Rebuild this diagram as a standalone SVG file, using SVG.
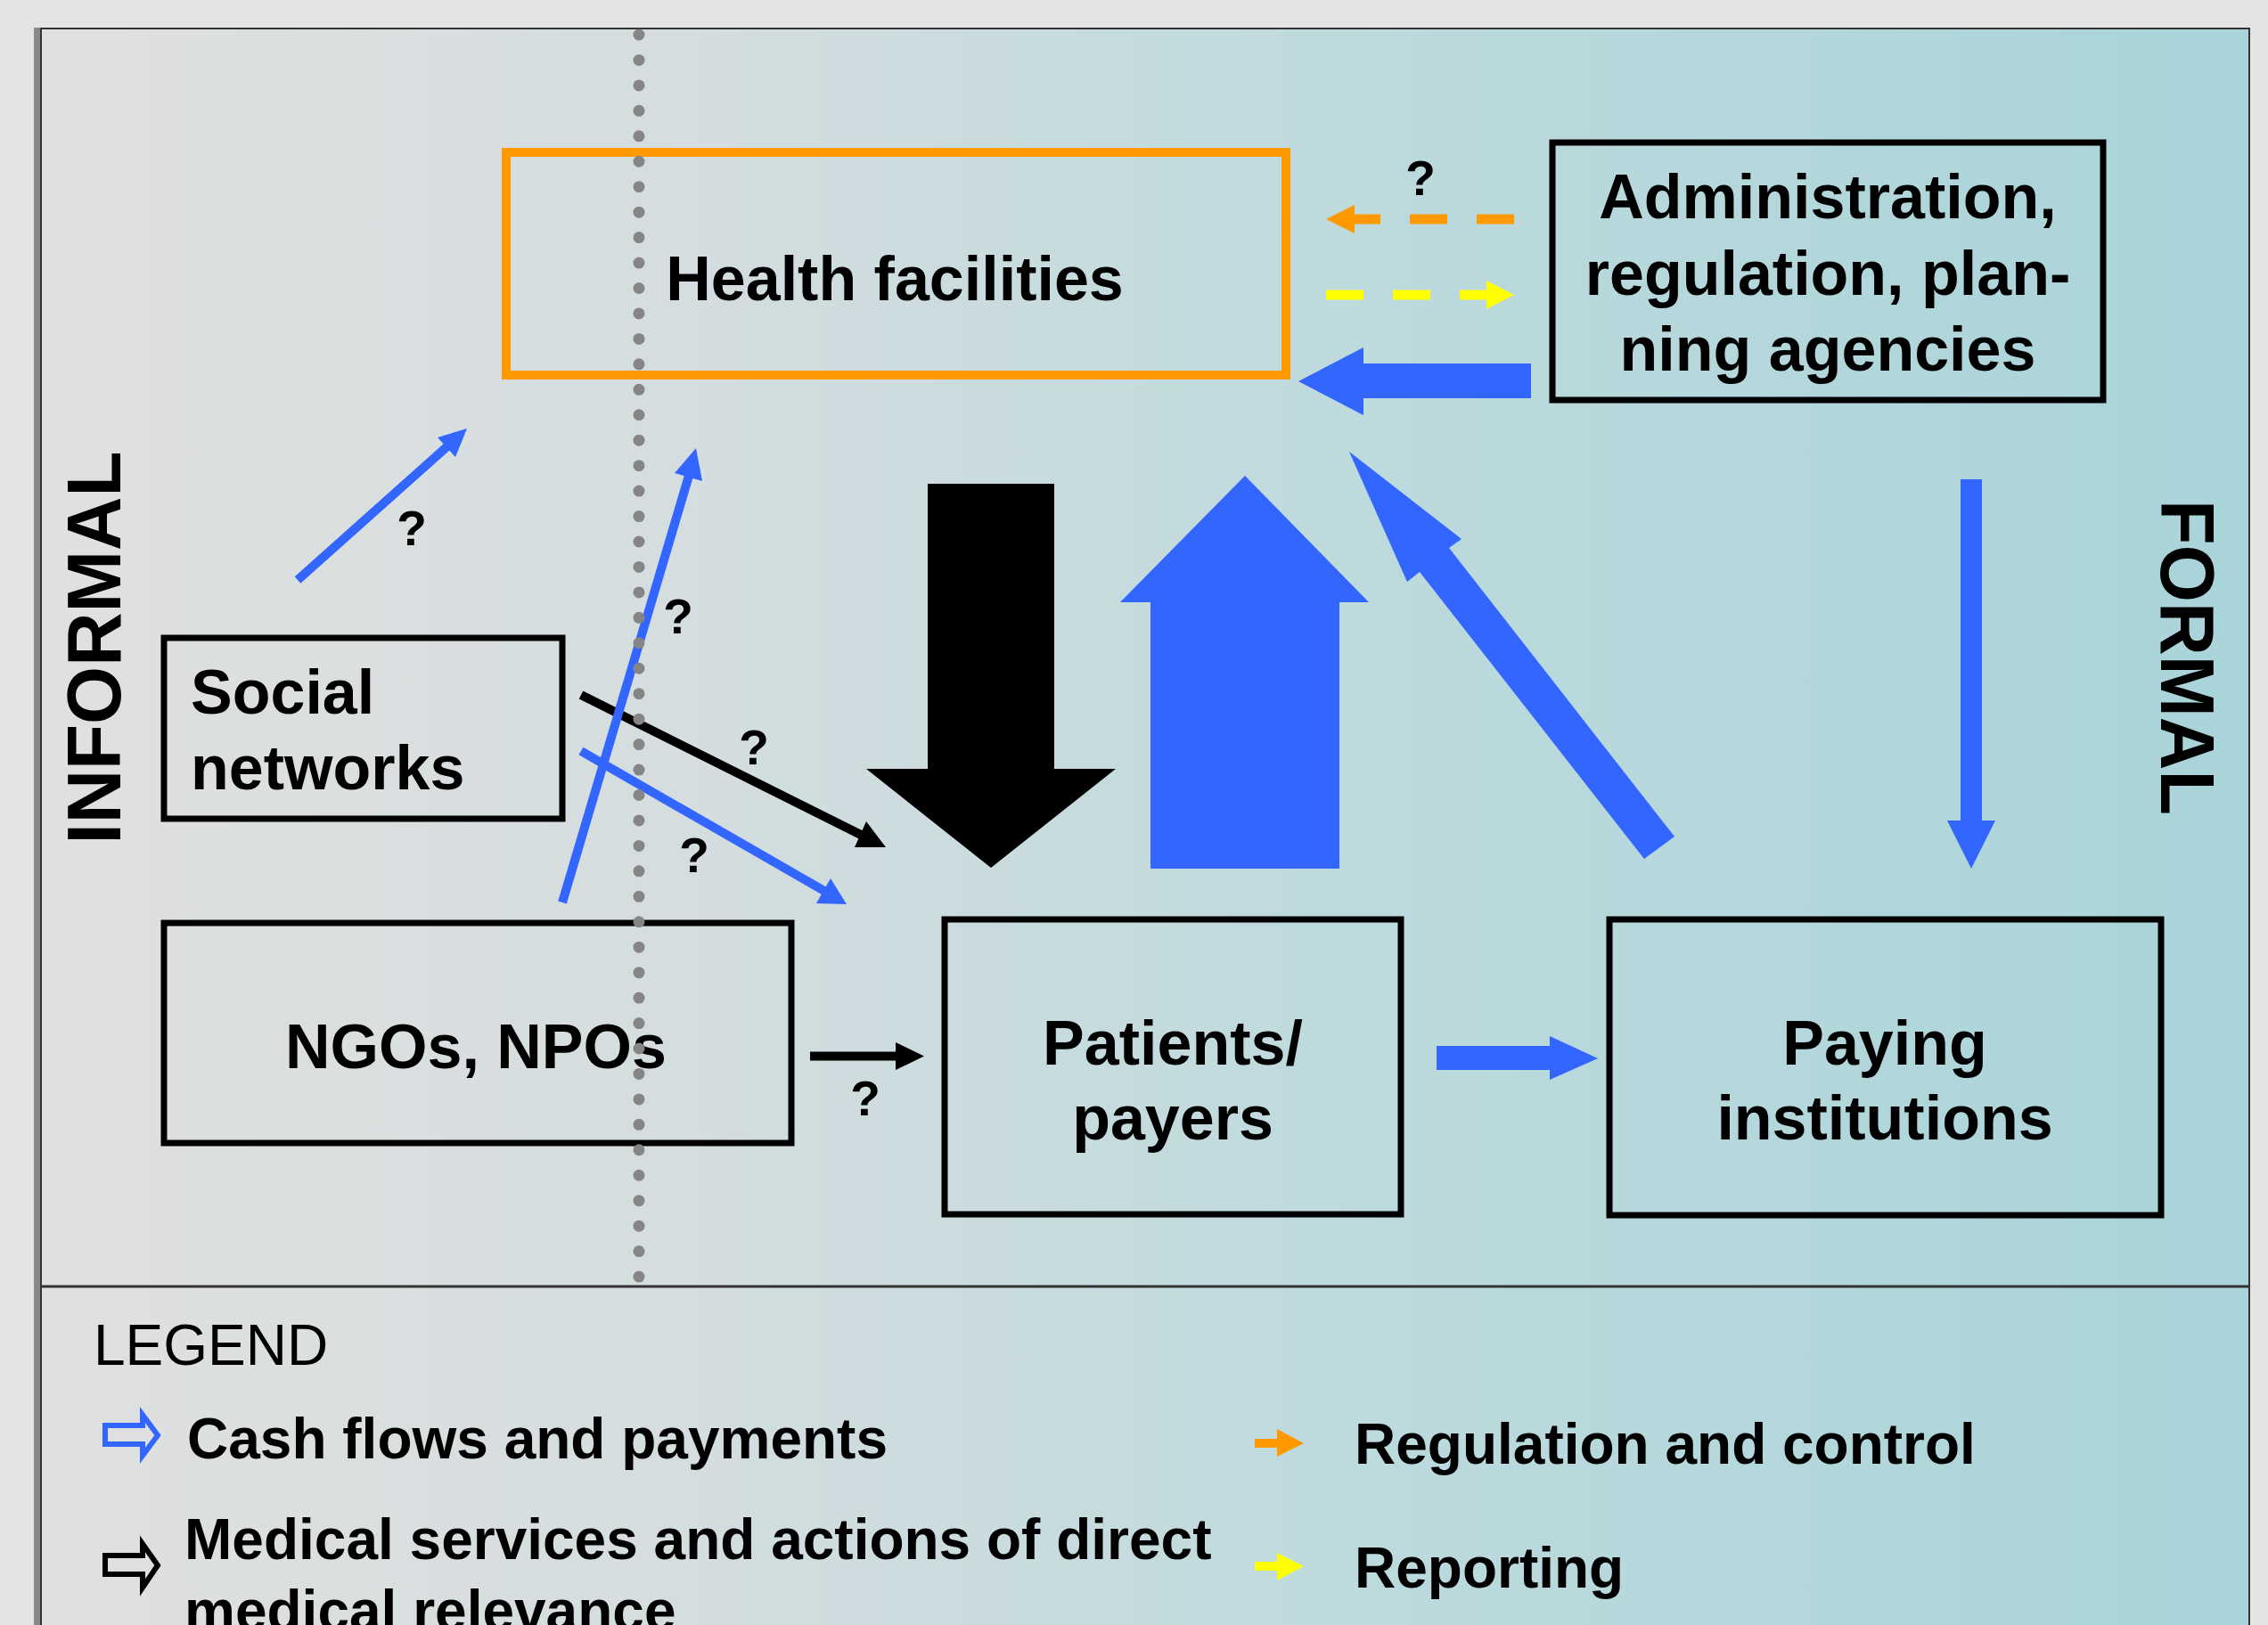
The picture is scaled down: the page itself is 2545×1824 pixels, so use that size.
<svg xmlns="http://www.w3.org/2000/svg" width="2545" height="1824" viewBox="0 0 2545 1824">
<defs>
<linearGradient id="bg" x1="0" y1="0" x2="1" y2="0">
<stop offset="0" stop-color="#e0e0e0"/>
<stop offset="0.3" stop-color="#d4dddf"/>
<stop offset="0.6" stop-color="#bddadd"/>
<stop offset="1" stop-color="#a9d4d9"/>
</linearGradient>
<style>
text{font-family:"Liberation Sans",Arial,sans-serif;fill:#000}
.n{font-size:70px;font-weight:bold}
.c{text-anchor:middle}
.q{font-size:55px;font-weight:bold;text-anchor:middle}
.lg{font-size:64px;font-weight:bold}
.box{fill:none;stroke:#000;stroke-width:7}
.bl{fill:#3366ff}
.blk{fill:#000}
.tb{stroke:#3366ff;stroke-width:10;fill:none}
.tk{stroke:#000;stroke-width:10;fill:none}
</style>
</defs>
<rect x="0" y="0" width="2545" height="1824" fill="#e4e4e4"/>
<rect x="46" y="32" width="2478" height="1800" fill="url(#bg)" stroke="#333" stroke-width="2"/>
<rect x="38" y="31" width="7" height="1800" fill="#888"/>
<line x1="46" y1="1444" x2="2524" y2="1444" stroke="#333" stroke-width="3"/>

<g id="informal"><text class="n c" transform="translate(135,727) rotate(-90)" style="font-size:86px" textLength="441" lengthAdjust="spacingAndGlyphs">INFORMAL</text></g>
<g id="formal"><text class="n c" transform="translate(2425,738) rotate(90)" style="font-size:86px" textLength="354" lengthAdjust="spacingAndGlyphs">FORMAL</text></g>

<g id="health-facilities">
<rect x="568" y="171" width="875" height="250" fill="none" stroke="#ff9900" stroke-width="10"/>
<text class="n c" x="1004" y="337">Health facilities</text>
</g>
<g id="administration">
<rect class="box" x="1742" y="160" width="618" height="289"/>
<text class="n c" x="2051" y="245">Administration,</text>
<text class="n c" x="2051" y="331">regulation, plan-</text>
<text class="n c" x="2051" y="416">ning agencies</text>
</g>
<g id="social-networks">
<rect class="box" x="184" y="716" width="447" height="203"/>
<text class="n" x="214" y="801">Social</text>
<text class="n" x="214" y="886">networks</text>
</g>
<g id="ngos">
<rect class="box" x="184" y="1036" width="704" height="247"/>
<text class="n c" x="534" y="1199">NGOs, NPOs</text>
</g>
<g id="patients">
<rect class="box" x="1060" y="1032" width="512" height="331"/>
<text class="n c" x="1316" y="1195">Patients/</text>
<text class="n c" x="1316" y="1279">payers</text>
</g>
<g id="paying-institutions">
<rect class="box" x="1806" y="1032" width="619" height="332"/>
<text class="n c" x="2115" y="1195">Paying</text>
<text class="n c" x="2115" y="1279">institutions</text>
</g>

<g id="connectors">
<line x1="1699" y1="246" x2="1520" y2="246" stroke="#ff9900" stroke-width="11" stroke-dasharray="42 33"/>
<polygon points="1488,246 1520,230 1520,262" fill="#ff9900"/>
<text class="q" x="1594" y="219">?</text>
<line x1="1488" y1="331" x2="1669" y2="331" stroke="#ffff00" stroke-width="11" stroke-dasharray="42 33"/>
<polygon points="1699,331 1668,315 1668,347" fill="#ffff00"/>
<polygon class="bl" points="1718,408 1530,408 1530,390 1457,428 1530,466 1530,447 1718,447"/>
<polygon class="blk" points="1041,543 1183,543 1183,863 1252,863 1112,974 972,863 1041,863"/>
<polygon class="bl" points="1291,975 1291,676 1257,676 1397,534 1536,676 1503,676 1503,975"/>
<polygon class="bl" points="1514,507 1640,605 1626,615 1879,939 1845,964 1593,642 1579,653"/>
<polygon class="bl" points="2200,538 2224,538 2224,921 2239,921 2212,975 2185,921 2200,921"/>
<polygon class="bl" points="1612,1174 1739,1174 1739,1163 1793,1188 1739,1212 1739,1201 1612,1201"/>
<line class="tk" x1="909" y1="1185.5" x2="1006" y2="1185.5"/>
<polygon class="blk" points="1037,1185.5 1005,1170 1005,1201"/>
<text class="q" x="971" y="1252">?</text>
<line class="tk" x1="652" y1="780" x2="966" y2="937"/>
<polygon class="blk" points="994,951 972,922 959,951"/>
<text class="q" x="846" y="858">?</text>
<line class="tb" x1="652" y1="843" x2="925" y2="1000"/>
<polygon class="bl" points="950,1015 932,986 916,1014"/>
<text class="q" x="779" y="979">?</text>
<line class="tb" x1="334" y1="651" x2="502" y2="501"/>
<polygon class="bl" points="524,481 491,491 511,513"/>
<text class="q" x="462" y="612">?</text>
<line class="tb" x1="631" y1="1013" x2="773" y2="534"/>
<polygon class="bl" points="781,503 757,531 788,540"/>
<text class="q" x="761" y="711">?</text>
</g>

<g id="divider">
<line x1="717" y1="39" x2="717" y2="1440" stroke="#858585" stroke-width="13" stroke-linecap="round" stroke-dasharray="0 28.45"/>
</g>

<g id="legend">
<text x="105" y="1532" style="font-size:64px">LEGEND</text>
<polygon points="118,1600 160,1600 160,1588 177,1611 160,1634 160,1621 118,1621" fill="none" stroke="#3366ff" stroke-width="6"/>
<text class="lg" x="210" y="1637">Cash flows and payments</text>
<polygon points="118,1746 160,1746 160,1733 177,1757 160,1782 160,1767 118,1767" fill="none" stroke="#000" stroke-width="6"/>
<text class="lg" x="207" y="1750">Medical services and actions of direct</text>
<text class="lg" x="207" y="1830">medical relevance</text>
<polygon points="1408,1615 1433,1615 1433,1604 1463,1620 1433,1635 1433,1625 1408,1625" fill="#ff9900"/>
<text class="lg" x="1520" y="1643">Regulation and control</text>
<polygon points="1408,1753 1433,1753 1433,1743 1463,1758 1433,1774 1433,1763 1408,1763" fill="#ffff00"/>
<text class="lg" x="1520" y="1782">Reporting</text>
</g>
</svg>
